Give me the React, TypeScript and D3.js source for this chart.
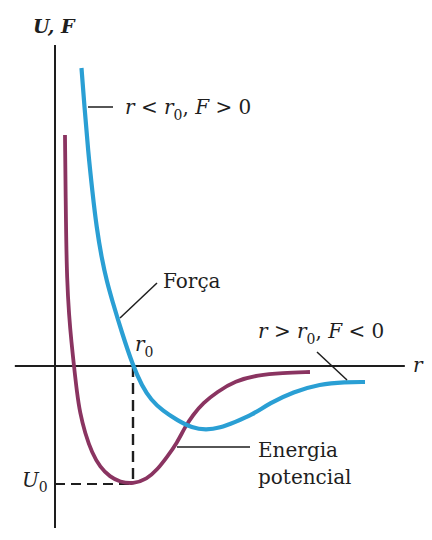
import * as d3 from "d3";

// r in arbitrary units (r0 = 2), U and F in arbitrary units (U0 = -3)
const forceR = [0.679, 0.756, 0.846, 0.962, 1.064, 1.205, 1.333, 1.462, 1.718, 2.0, 2.231, 2.462, 2.769, 3.128, 3.513, 3.872, 4.231, 4.615, 5.051, 5.513, 6.103, 6.795, 7.436, 7.949];
const forceF = [7.577, 6.585, 5.492, 4.399, 3.534, 2.695, 2.136, 1.678, 0.839, 0, -0.509, -0.864, -1.144, -1.373, -1.576, -1.627, -1.576, -1.424, -1.246, -0.941, -0.661, -0.458, -0.407, -0.407];

const energyR = [0.256, 0.282, 0.308, 0.359, 0.423, 0.487, 0.564, 0.641, 0.769, 0.949, 1.154, 1.41, 1.667, 2.0, 2.359, 2.615, 2.872, 3.128, 3.333, 3.538, 3.795, 4.154, 4.615, 5.205, 5.821, 6.538];
const energyU = [5.873, 3.458, 2.187, 1.297, 0.585, 0, -0.686, -1.195, -1.704, -2.212, -2.568, -2.822, -2.949, -3.0, -2.873, -2.644, -2.314, -1.958, -1.551, -1.246, -0.941, -0.661, -0.381, -0.229, -0.178, -0.153];

const r0 = 2;
const U0 = -3;
const xExtent = [-1.03, 8.97];
const yExtent = [-4.12, 8.16];

const W = 432;
const H = 540;
const serif = "'DejaVu Serif', serif";
const ink = "#1e1e1e";

const App = () => {
  const x = d3.scaleLinear().domain([0, 9]).range([55, 406]);
  const y = d3.scaleLinear().domain([-4, 8]).range([523.3, 51.4]);

  const line = d3
    .line<[number, number]>()
    .x((d) => x(d[0]))
    .y((d) => y(d[1]))
    .curve(d3.curveBasis);

  const forcePts = forceR.map((r, i) => [r, forceF[i]] as [number, number]);
  const energyPts = energyR.map((r, i) => [r, energyU[i]] as [number, number]);

  return (
    <svg
      width={W}
      height={H}
      style={{ position: "absolute", left: 0, top: 0, background: "#fff" }}
      fontFamily={serif}
    >
      {/* axes */}
      <line x1={x(0)} x2={x(0)} y1={y(yExtent[1])} y2={y(yExtent[0])} stroke={ink} strokeWidth={2} />
      <line x1={x(xExtent[0])} x2={x(xExtent[1])} y1={y(0)} y2={y(0)} stroke={ink} strokeWidth={2} />

      {/* r0 / U0 guides */}
      <line x1={x(r0)} x2={x(r0)} y1={y(0)} y2={y(U0)} stroke={ink} strokeWidth={2.4} strokeDasharray="11,6" />
      <line x1={x(0)} x2={x(r0)} y1={y(U0)} y2={y(U0)} stroke={ink} strokeWidth={1.8} strokeDasharray="10,6" />

      {/* curves */}
      <path d={line(energyPts) ?? ""} fill="none" stroke="#8a3461" strokeWidth={3.8} />
      <path d={line(forcePts) ?? ""} fill="none" stroke="#2a9fd4" strokeWidth={4.2} />

      {/* leaders */}
      <line x1={88} x2={113} y1={107} y2={107} stroke={ink} strokeWidth={1.5} />
      <line x1={120} x2={157} y1={318} y2={283} stroke={ink} strokeWidth={1.5} />
      <line x1={317} x2={347} y1={352} y2={380} stroke={ink} strokeWidth={1.5} />
      <line x1={177} x2={250} y1={447} y2={447} stroke={ink} strokeWidth={1.5} />

      {/* labels */}
      <text x={33} y={33} fontSize={19} fontStyle="italic" fontWeight="bold" fill={ink}>
        U, F
      </text>
      <text x={125} y={114} fontSize={20} fill={ink}>
        <tspan fontStyle="italic">r</tspan> &lt; <tspan fontStyle="italic">r</tspan>
        <tspan fontSize={14} dy={6}>0</tspan>
        <tspan dy={-6}>, </tspan>
        <tspan fontStyle="italic">F</tspan> &gt; 0
      </text>
      <text x={163} y={288} fontSize={20} fill={ink}>
        Força
      </text>
      <text x={135} y={351} fontSize={20} fill={ink}>
        <tspan fontStyle="italic">r</tspan>
        <tspan fontSize={14} dy={6}>0</tspan>
      </text>
      <text x={258} y={338} fontSize={20} fill={ink}>
        <tspan fontStyle="italic">r</tspan> &gt; <tspan fontStyle="italic">r</tspan>
        <tspan fontSize={14} dy={6}>0</tspan>
        <tspan dy={-6}>, </tspan>
        <tspan fontStyle="italic">F</tspan> &lt; 0
      </text>
      <text x={413} y={372} fontSize={20} fontStyle="italic" fill={ink}>
        r
      </text>
      <text x={258} y={457} fontSize={20} fill={ink}>
        Energia
      </text>
      <text x={258} y={484} fontSize={20} fill={ink}>
        potencial
      </text>
      <text x={22} y={487} fontSize={20} fill={ink}>
        <tspan fontStyle="italic">U</tspan>
        <tspan fontSize={14} dy={5}>0</tspan>
      </text>
    </svg>
  );
};

export default App;
